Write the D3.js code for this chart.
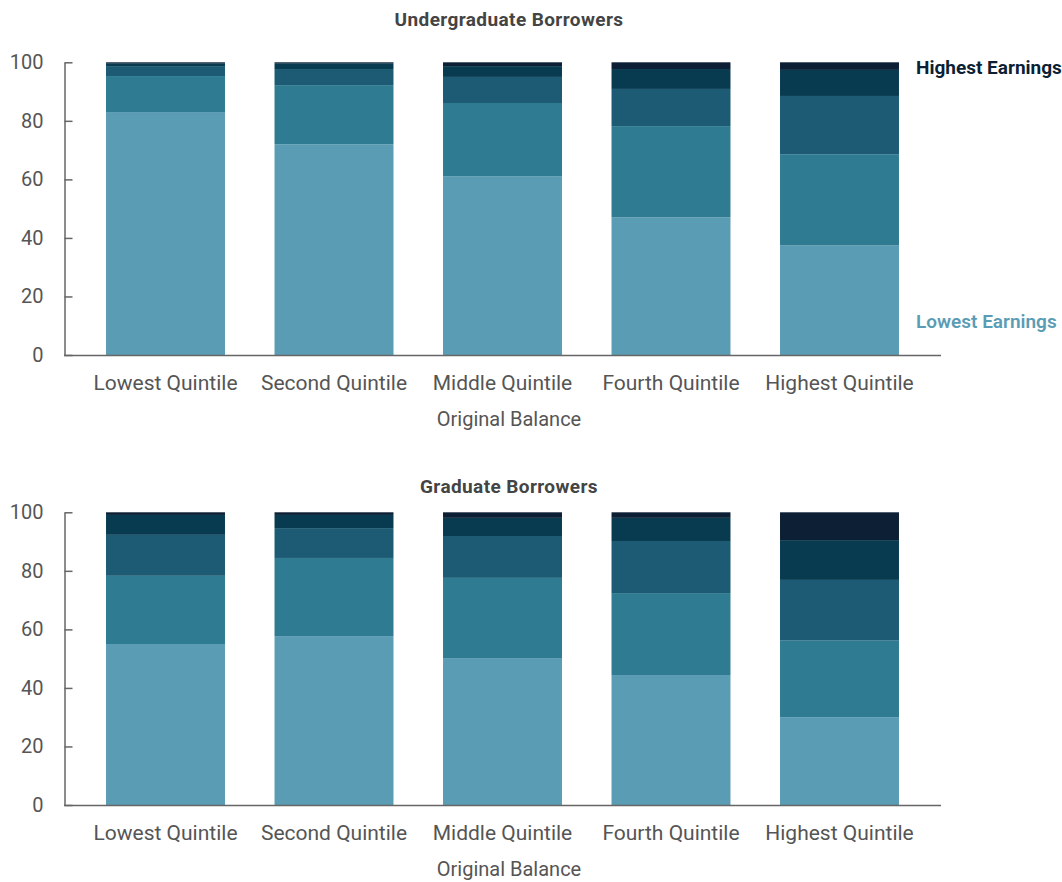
<!DOCTYPE html>
<html>
<head>
<meta charset="utf-8">
<script src="https://cdn.jsdelivr.net/npm/d3@7"></script>
<style>
  html, body { margin: 0; padding: 0; background: #fff; }
  svg { display: block; font-family: Roboto, "Open Sans", sans-serif; }
</style>
</head>
<body>
<svg id="chart" width="1062" height="882"></svg>
<script>
// ---- Data ----
const categories = ["Lowest Quintile", "Second Quintile", "Middle Quintile", "Fourth Quintile", "Highest Quintile"];
const earningsGroups = ["Lowest Earnings", "Second Earnings", "Middle Earnings", "Fourth Earnings", "Highest Earnings"];
const yTicks = [0, 20, 40, 60, 80, 100];

const undergradLowest  = [83.0, 72.0, 61.1, 47.0, 37.4];
const undergradSecond  = [12.3, 20.2, 25.0, 31.2, 31.2];
const undergradMiddle  = [3.4, 5.5, 8.9, 12.7, 19.9];
const undergradFourth  = [1.0, 2.0, 3.7, 6.8, 8.9];
const undergradHighest = [0.3, 0.3, 1.3, 2.3, 2.6];

const gradLowest  = [55.0, 57.7, 50.2, 44.4, 30.0];
const gradSecond  = [23.3, 26.7, 27.4, 28.0, 26.3];
const gradMiddle  = [14.0, 10.2, 14.3, 17.8, 20.6];
const gradFourth  = [6.8, 4.5, 6.2, 7.9, 13.6];
const gradHighest = [0.9, 0.9, 1.9, 1.9, 9.5];

const colors = ["#5b9cb5", "#2f7b91", "#1c5b73", "#083b50", "#0c1f34"];

function buildRows(series) {
  return categories.map((c, i) => {
    const row = { category: c };
    earningsGroups.forEach((g, j) => { row[g] = series[j][i]; });
    return row;
  });
}

const svg = d3.select("#chart");
const axisColor = "#666";
const textColor = "#555";

const x = d3.scaleBand()
  .domain(categories)
  .range([81.25, 923.75])
  .paddingInner(0.294)
  .paddingOuter(0.147);

function drawPanel(title, series, yTop, yBottom, titleY, axisTitleY) {
  const rows = buildRows(series);
  const stacked = d3.stack().keys(earningsGroups)(rows);
  const y = d3.scaleLinear().domain([0, 100]).range([yBottom, yTop]);
  const g = svg.append("g");

  g.append("text")
    .attr("x", 509).attr("y", titleY)
    .attr("text-anchor", "middle")
    .attr("font-size", 19).attr("font-weight", 700)
    .attr("letter-spacing", 0.4)
    .attr("fill", "#444")
    .text(title);

  g.selectAll("g.layer").data(stacked).join("g")
    .attr("class", "layer")
    .attr("fill", (d, i) => colors[i])
    .selectAll("rect").data(d => d).join("rect")
    .attr("x", d => x(d.data.category))
    .attr("width", x.bandwidth())
    .attr("y", d => y(d[1]))
    .attr("height", d => y(d[0]) - y(d[1]));

  // y axis
  const yAxis = d3.axisLeft(y).tickValues(yTicks).tickSizeInner(-8).tickSizeOuter(0).tickPadding(21);
  const ya = g.append("g").attr("transform", "translate(64.5,0)").call(yAxis);
  ya.select(".domain").attr("stroke", axisColor).attr("stroke-width", 1.5);
  ya.selectAll(".tick line").attr("stroke", axisColor).attr("stroke-width", 1.5);
  ya.selectAll(".tick text").attr("fill", textColor).attr("font-size", 20)
    .attr("font-family", "Roboto, sans-serif");

  // x axis
  const xAxis = d3.axisBottom(x).tickSize(0).tickPadding(20);
  const xa = g.append("g").attr("transform", `translate(0,${yBottom + 0.5})`).call(xAxis);
  xa.select(".domain").attr("d", `M64,0H941`).attr("stroke", axisColor).attr("stroke-width", 1.5);
  xa.selectAll(".tick text").attr("fill", textColor).attr("font-size", 21)
    .attr("font-family", "Roboto, sans-serif");

  g.append("text")
    .attr("x", 509).attr("y", axisTitleY)
    .attr("text-anchor", "middle")
    .attr("font-size", 20)
    .attr("fill", textColor)
    .text("Original Balance");
  return y;
}

drawPanel("Undergraduate Borrowers",
  [undergradLowest, undergradSecond, undergradMiddle, undergradFourth, undergradHighest],
  62.3, 355, 26, 426);

drawPanel("Graduate Borrowers",
  [gradLowest, gradSecond, gradMiddle, gradFourth, gradHighest],
  512.3, 805, 493, 876);

// legend labels
svg.append("text")
  .attr("x", 916).attr("y", 74)
  .attr("font-size", 19).attr("font-weight", 700)
  .attr("fill", colors[4])
  .text("Highest Earnings");
svg.append("text")
  .attr("x", 916).attr("y", 328)
  .attr("font-size", 19).attr("font-weight", 600)
  .attr("fill", colors[0])
  .text("Lowest Earnings");
</script>
</body>
</html>
